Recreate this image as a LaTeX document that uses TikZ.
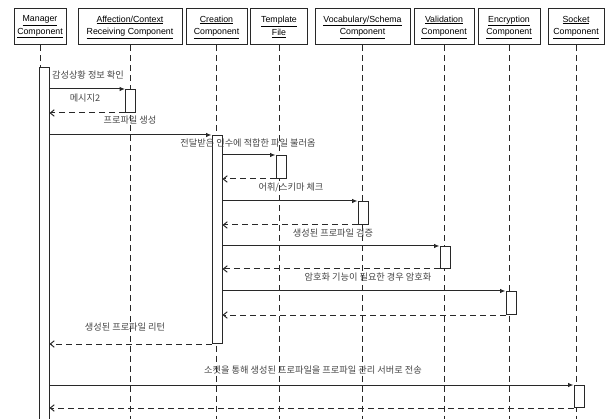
\documentclass[tikz,border=0pt]{standalone}
\usepackage{fontspec}
\setmainfont{Liberation Sans}
\newfontfamily\krfont{Noto Sans CJK KR}
\usepackage{tikz}
\usetikzlibrary{arrows.meta,positioning}
\definecolor{seqgray}{RGB}{40,40,40}
\definecolor{lblgray}{RGB}{70,70,70}

\begin{document}
\begin{tikzpicture}[x=1pt,y=-1pt,
  comp/.style={draw=seqgray,line width=1pt,font=\fontsize{8.8}{12.5}\selectfont,align=center,minimum height=36pt,inner sep=1pt},
  life/.style={draw=seqgray,line width=0.9pt,dash pattern=on 6pt off 4pt},
  actbar/.style={draw=seqgray,fill=white,line width=1pt,minimum width=10pt,inner sep=0pt,anchor=north},
  call/.style={draw=seqgray,line width=1pt,-{Latex[length=5.5pt,width=4.5pt]}},
  reply/.style={draw=seqgray,line width=1pt,dash pattern=on 6pt off 4pt,-{Straight Barb[length=4pt,width=6.5pt]}},
  lbl/.style={font=\krfont\fontsize{9.2}{10}\selectfont,text=lblgray,inner sep=0pt}]
  \useasboundingbox (0,0) rectangle (615,419);
  % Components
  \node[comp,minimum width=52pt] (mgr) at (40,27) {\underline{Manager}\\\underline{Component}};
  \node[comp,minimum width=104pt] (aff) at (130,27) {\underline{Affection/Context}\\\underline{Receiving Component}};
  \node[comp,minimum width=61pt] (cre) at (216.5,27) {\underline{Creation}\\\underline{Component}};
  \node[comp,minimum width=57pt] (tpl) at (279,27) {\underline{Template}\\\underline{File}};
  \node[comp,minimum width=95pt] (voc) at (362.5,27) {\underline{Vocabulary/Schema}\\\underline{Component}};
  \node[comp,minimum width=60pt] (val) at (444,27) {\underline{Validation}\\\underline{Component}};
  \node[comp,minimum width=62pt] (enc) at (509,27) {\underline{Encryption}\\\underline{Component}};
  \node[comp,minimum width=56pt] (sck) at (576,27) {\underline{Socket}\\\underline{Component}};
  % Lifelines
  \foreach \c in {mgr,aff,cre,tpl,voc,val,enc,sck}
    \draw[life] (\c.south) -- (\c.south |- 0,425);
  % Activations
  \node[actbar,minimum height=360pt] (mgrbar) at (44,67) {};
  \node[actbar,minimum height=23pt] (affbar) at (130.5,89) {};
  \node[actbar,minimum height=208pt] (crebar) at (217,135) {};
  \node[actbar,minimum height=23pt] (tplbar) at (281,155) {};
  \node[actbar,minimum height=23pt] (vocbar) at (363,201) {};
  \node[actbar,minimum height=22pt] (valbar) at (445,246) {};
  \node[actbar,minimum height=23pt] (encbar) at (511,291) {};
  \node[actbar,minimum height=22pt] (sckbar) at (579,385) {};
  % Messages
  \draw[call] (mgrbar.east |- affbar.north) -- (affbar.north west);
  \draw[reply] (affbar.south west) -- (mgrbar.east |- affbar.south);
  \draw[call] (mgrbar.east |- crebar.north) -- (crebar.north west);
  \draw[call] (crebar.east |- tplbar.north) -- (tplbar.north west);
  \draw[reply] (tplbar.south west) -- (crebar.east |- tplbar.south);
  \draw[call] (crebar.east |- vocbar.north) -- (vocbar.north west);
  \draw[reply] (vocbar.south west) -- (crebar.east |- vocbar.south);
  \draw[call] (crebar.east |- valbar.north) -- (valbar.north west);
  \draw[reply] (valbar.south west) -- (crebar.east |- valbar.south);
  \draw[call] (crebar.east |- encbar.north) -- (encbar.north west);
  \draw[reply] (encbar.south west) -- (crebar.east |- encbar.south);
  \draw[reply] (crebar.south west) -- (mgrbar.east |- crebar.south);
  \draw[call] (mgrbar.east |- sckbar.north) -- (sckbar.north west);
  \draw[reply] (sckbar.south west) -- (mgrbar.east |- sckbar.south);
  % Labels
  \node[lbl] (t1) at (88,75) {감성상황 정보 확인};
  \node[lbl] (t2) at (85,98) {메시지2};
  \node[lbl] (t3) at (130,120) {프로파일 생성};
  \node[lbl] (t4) at (248,143) {전달받은 인수에 적합한 파일 불러옴};
  \node[lbl] (t5) at (291,187) {어휘/스키마 체크};
  \node[lbl] (t6) at (333,233) {생성된 프로파일 검증};
  \node[lbl] (t7) at (368,277) {암호화 기능이 필요한 경우 암호화};
  \node[lbl] (t8) at (125,327) {생성된 프로파일 리턴};
  \node[lbl] (t9) at (313,370) {소켓을 통해 생성된 프로파일을 프로파일 관리 서버로 전송};
\end{tikzpicture}
\end{document}
